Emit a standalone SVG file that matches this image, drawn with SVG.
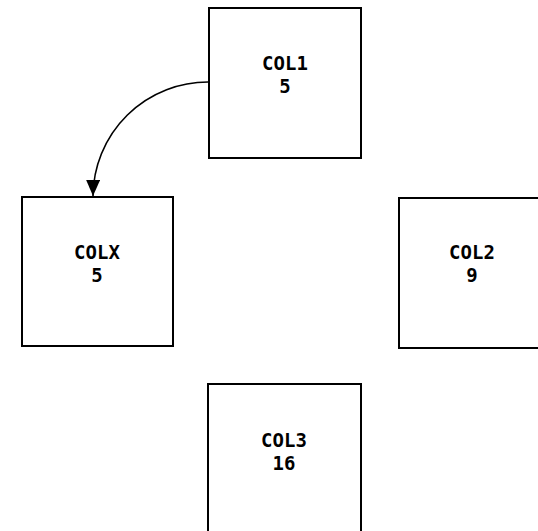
<svg xmlns="http://www.w3.org/2000/svg" width="538" height="531" viewBox="0 0 538 531">
<style>
.box{fill:#fff;stroke:#000;stroke-width:2}
.lbl{font-family:"DejaVu Sans Mono",monospace;font-size:19px;font-weight:bold;text-anchor:middle;fill:#000}
.edge{fill:none;stroke:#000;stroke-width:1.6}
</style>
<defs>
<marker id="arr" markerUnits="userSpaceOnUse" markerWidth="18" markerHeight="16" refX="16" refY="7" orient="auto">
<path d="M0,0 L16,7 L0,14 Z" fill="#000"/>
</marker>
</defs>
<rect width="538" height="531" fill="#fff"/>
<g id="col1"><rect class="box" x="209" y="8" width="152" height="150"/><text class="lbl" x="285" y="70">COL1</text><text class="lbl" x="285" y="93">5</text></g>
<g id="colx"><rect class="box" x="22" y="197" width="151" height="149"/><text class="lbl" x="97" y="259">COLX</text><text class="lbl" x="97" y="282">5</text></g>
<g id="col2"><rect class="box" x="399" y="198" width="150" height="150"/><text class="lbl" x="472" y="259">COL2</text><text class="lbl" x="472" y="282">9</text></g>
<g id="col3"><rect class="box" x="208" y="384" width="153" height="160"/><text class="lbl" x="284" y="447">COL3</text><text class="lbl" x="284" y="470">16</text></g>
<g id="edges"><path class="edge" d="M209,82 A115,115 0 0 0 93,196" marker-end="url(#arr)"/></g>
</svg>
